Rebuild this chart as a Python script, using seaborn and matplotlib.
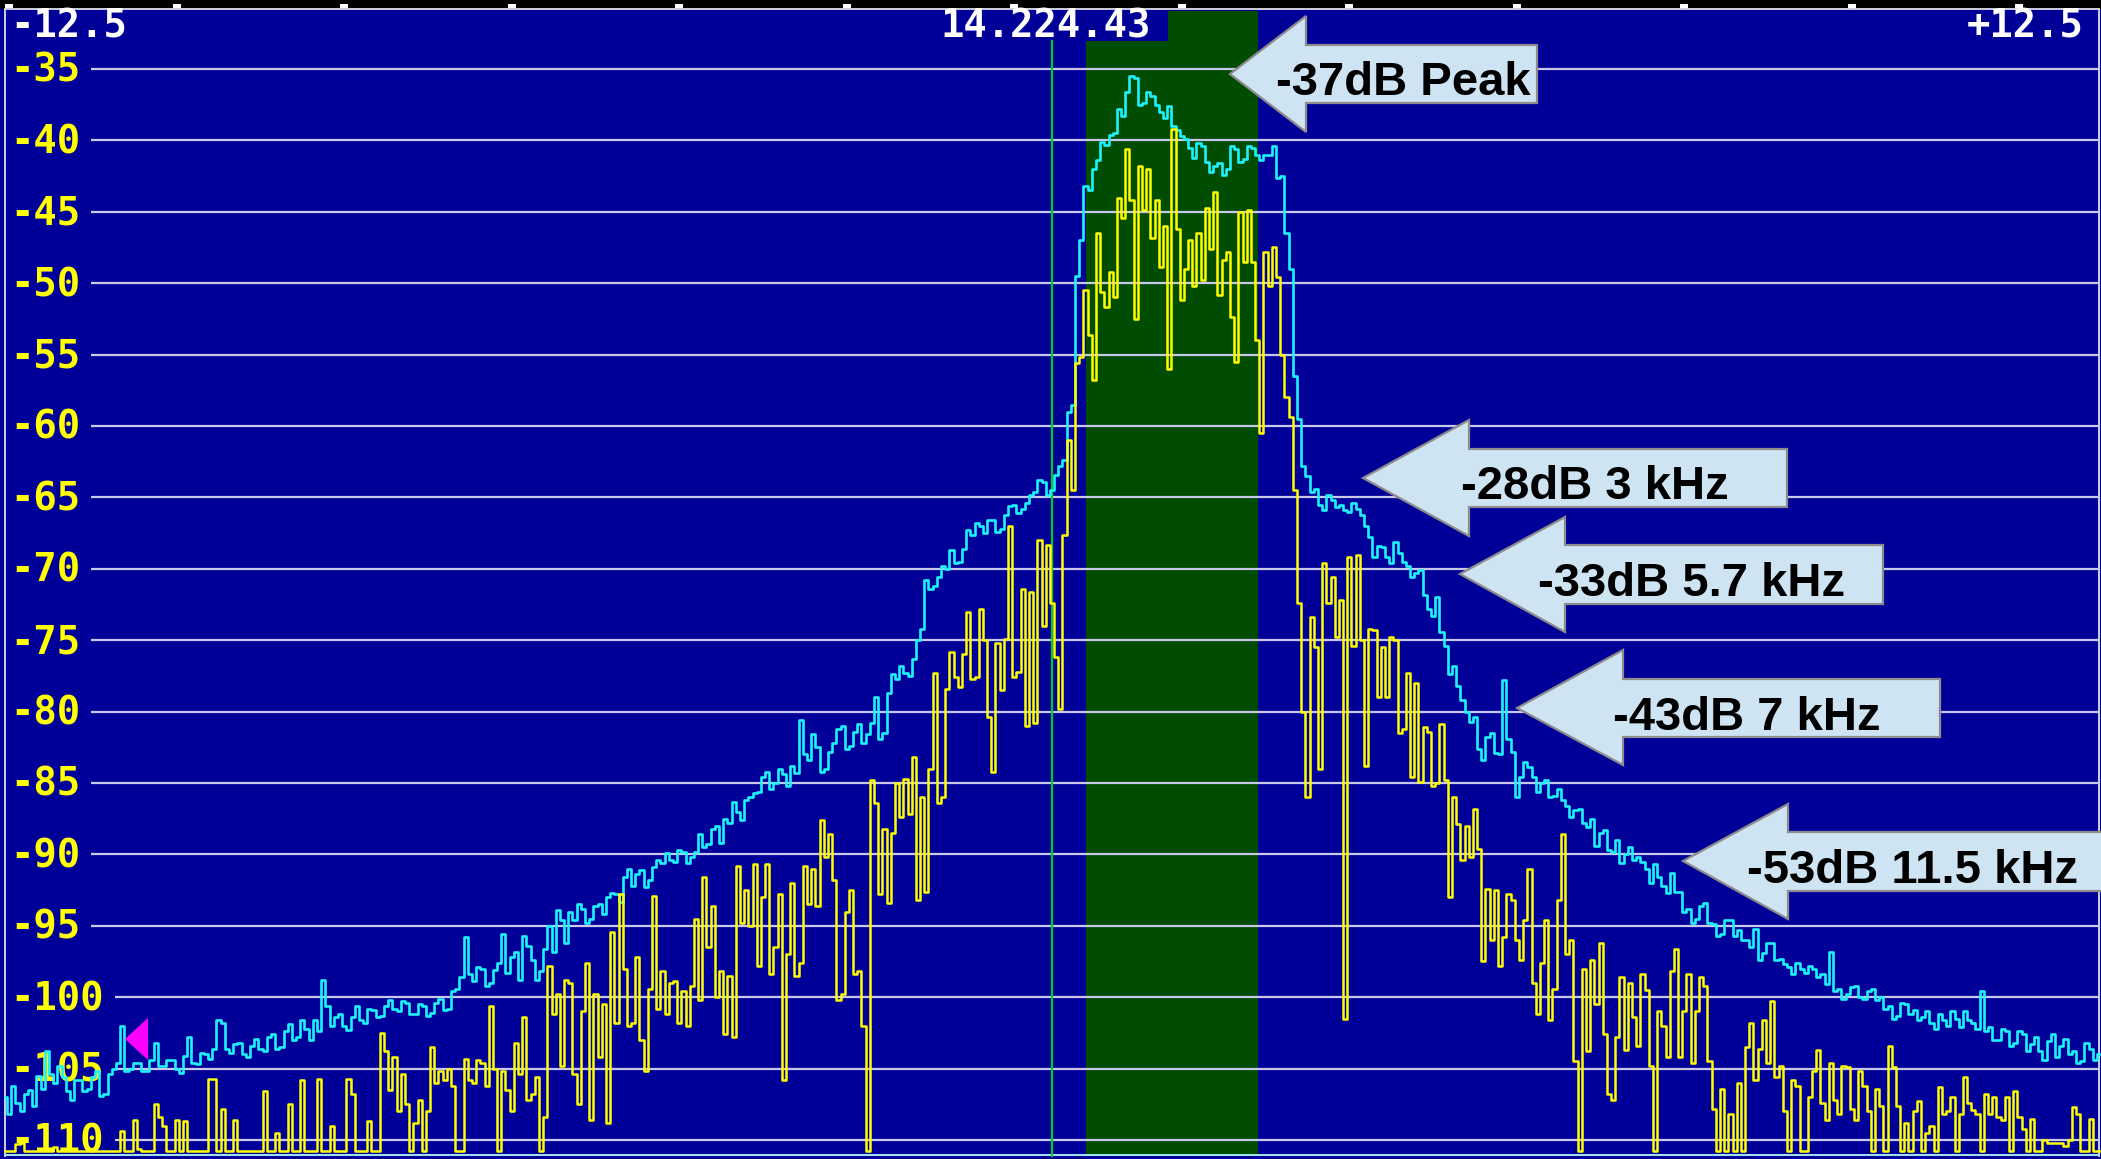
import numpy as np
import pandas as pd
import matplotlib
matplotlib.use("Agg")
import matplotlib.pyplot as plt
from matplotlib.patches import Polygon, Rectangle
import seaborn as sns

# ---------------- data ----------------
# frequency offset (kHz) from 14.224.43 MHz; both traces sampled every 0.05 kHz
f_start, f_step = -12.5, 0.05
# peak-hold trace (cyan)
cyan_db = [
    -107.0, -108.2, -106.2, -107.4, -108.0, -106.8, -106.5, -107.6, -105.5, -106.4,
    -103.8, -105.4, -106.0, -104.8, -105.6, -106.6, -107.2, -105.8, -105.8, -106.6,
    -106.4, -105.6, -105.2, -106.9, -106.8, -105.4, -105.0, -104.6, -102.0, -105.2,
    -105.0, -104.6, -104.6, -105.2, -105.2, -104.4, -103.2, -104.8, -104.8, -104.4,
    -104.4, -105.0, -105.3, -104.1, -102.8, -104.6, -104.7, -103.9, -104.0, -104.3,
    -103.6, -101.6, -101.8, -103.6, -103.9, -103.3, -103.2, -104.0, -104.2, -103.4,
    -102.9, -103.6, -103.8, -102.8, -102.6, -103.6, -103.5, -102.4, -101.9, -103.0,
    -102.8, -101.6, -102.2, -103.0, -101.6, -102.4, -98.8, -100.6, -102.0, -101.4,
    -101.2, -102.0, -102.3, -101.4, -100.6, -101.6, -101.8, -100.8, -100.9, -101.4,
    -101.3, -100.6, -100.2, -100.8, -101.0, -100.3, -100.4, -101.2, -101.2, -100.5,
    -100.6, -101.3, -101.1, -100.4, -100.1, -100.9, -100.8, -99.6, -99.4, -98.6,
    -95.8, -98.4, -98.9, -97.9, -98.0, -99.2, -99.0, -98.1, -97.6, -95.6,
    -98.3, -97.2, -96.8, -98.8, -95.7, -96.4, -97.4, -98.8, -98.2, -96.6,
    -95.0, -96.8, -93.9, -94.6, -96.2, -94.0, -94.6, -93.5, -93.8, -94.8,
    -94.5, -93.6, -93.5, -94.2, -93.0, -92.7, -92.8, -93.3, -91.6, -91.0,
    -92.2, -91.4, -91.1, -92.3, -91.8, -90.9, -90.4, -90.6, -89.9, -90.4,
    -90.5, -89.7, -89.8, -90.6, -90.2, -89.8, -88.6, -89.5, -89.3, -88.2,
    -88.0, -89.2, -87.5, -87.8, -86.3, -87.0, -87.6, -86.2, -86.0, -85.7,
    -85.6, -84.6, -84.2, -85.4, -85.0, -84.0, -84.4, -85.2, -83.8, -84.3,
    -80.6, -83.0, -83.4, -81.6, -82.5, -84.2, -84.0, -82.8, -82.2, -81.2,
    -81.0, -82.6, -82.4, -81.4, -80.9, -82.2, -81.6, -80.8, -79.0, -81.9,
    -81.5, -78.7, -77.4, -77.7, -76.8, -77.3, -77.5, -76.3, -75.0, -74.2,
    -70.8, -71.4, -71.2, -70.6, -69.8, -70.0, -68.7, -69.6, -69.5, -68.6,
    -67.3, -67.6, -66.8, -67.0, -67.5, -66.6, -66.6, -67.4, -67.2, -66.2,
    -65.6, -65.5, -66.1, -65.8, -65.4, -64.8, -64.6, -63.8, -63.9, -64.8,
    -64.5, -63.4, -62.8, -62.4, -59.0, -58.5, -49.5, -47.0, -43.2, -43.5,
    -42.0, -41.4, -40.1, -40.3, -39.6, -39.5, -37.8, -38.3, -36.6, -35.5,
    -35.6, -37.5, -37.4, -36.6, -36.9, -37.5, -38.0, -38.4, -37.6, -39.0,
    -39.3, -39.7, -39.9, -40.5, -41.2, -40.2, -40.4, -41.5, -42.2, -41.8,
    -41.6, -42.4, -42.0, -40.4, -40.6, -41.5, -41.3, -40.4, -40.5, -41.0,
    -41.4, -41.0, -41.0, -40.4, -42.6, -42.5, -46.5, -49.0, -56.5, -59.5,
    -62.8, -63.5, -64.6, -64.4, -65.5, -65.9, -64.8, -65.2, -65.7, -65.5,
    -65.9, -66.0, -65.4, -65.8, -66.2, -67.0, -67.8, -69.2, -68.4, -68.5,
    -69.2, -69.6, -68.1, -68.9, -69.5, -69.8, -70.6, -70.3, -70.1, -71.8,
    -72.8, -73.3, -72.0, -74.4, -75.4, -77.4, -76.8, -78.2, -79.2, -80.0,
    -80.7, -80.4, -82.6, -83.4, -81.8, -81.5, -82.9, -83.0, -77.8, -81.9,
    -82.8, -86.0, -84.6, -83.5, -83.9, -84.6, -85.6, -85.0, -84.8, -86.0,
    -85.9, -85.4, -86.2, -86.6, -87.4, -86.9, -86.8, -87.8, -88.1, -87.5,
    -89.4, -88.5, -88.3, -89.7, -89.8, -89.0, -90.6, -90.0, -89.5, -90.4,
    -90.2, -90.5, -91.0, -92.0, -90.7, -91.6, -92.2, -92.7, -91.3, -92.6,
    -92.6, -94.0, -93.8, -94.8, -94.5, -93.6, -93.4, -94.8, -94.9, -95.7,
    -95.6, -94.6, -94.6, -95.7, -95.3, -96.0, -96.0, -96.5, -95.2, -97.4,
    -96.9, -96.2, -96.2, -97.4, -97.3, -97.7, -97.9, -98.4, -97.6, -98.0,
    -98.3, -97.8, -98.0, -98.6, -98.4, -99.1, -96.8, -99.6, -99.4, -100.1,
    -99.8, -99.3, -99.2, -100.0, -100.1, -99.6, -99.4, -100.2, -100.0, -100.8,
    -100.6, -101.5, -101.3, -100.4, -100.5, -101.2, -100.9, -101.6, -101.4, -101.0,
    -101.8, -102.2, -101.2, -101.6, -102.0, -101.0, -101.5, -102.1, -101.0, -101.6,
    -101.8, -102.2, -99.6, -102.4, -102.1, -103.0, -103.0, -102.2, -102.4, -103.4,
    -103.2, -102.4, -102.6, -103.8, -103.3, -102.8, -103.8, -104.4, -103.1, -102.6,
    -104.2, -103.4, -102.9, -104.0, -103.8, -104.6, -104.5, -103.2, -103.6, -104.4,
    -104.0,
]
# live spectrum (yellow)
yellow_db = [
    -110.8, -110.8, -110.8, -110.3, -110.2, -110.8, -110.8, -110.8, -110.8, -110.8,
    -110.8, -110.8, -110.5, -110.8, -110.8, -110.8, -110.8, -110.8, -110.8, -110.8,
    -110.8, -110.8, -110.8, -110.8, -110.8, -110.8, -110.8, -110.8, -109.4, -110.8,
    -110.8, -108.6, -110.6, -110.8, -110.8, -110.8, -107.5, -108.4, -109.0, -110.8,
    -110.8, -108.6, -110.8, -108.7, -110.8, -110.8, -110.8, -110.8, -110.8, -105.7,
    -105.7, -110.8, -107.8, -110.8, -110.8, -108.6, -110.8, -110.8, -110.8, -110.8,
    -110.8, -110.8, -106.6, -110.8, -110.8, -109.5, -110.8, -110.8, -107.5, -110.8,
    -110.8, -105.8, -110.8, -110.8, -110.8, -105.7, -110.8, -110.8, -109.0, -110.8,
    -110.8, -110.8, -105.7, -106.8, -110.8, -110.8, -110.8, -108.7, -110.8, -110.8,
    -102.5, -103.8, -106.5, -104.2, -108.0, -105.4, -107.5, -110.8, -108.8, -107.2,
    -110.8, -108.0, -103.5, -106.0, -105.2, -105.8, -105.0, -106.2, -110.8, -110.8,
    -104.3, -105.8, -106.0, -104.4, -104.6, -106.2, -100.6, -105.0, -110.8, -105.2,
    -106.5, -108.0, -103.2, -105.4, -101.4, -107.2, -106.8, -105.6, -110.8, -108.4,
    -97.8, -101.2, -99.8, -104.8, -98.8, -99.0, -105.4, -107.5, -101.0, -97.6,
    -108.6, -99.8, -104.2, -100.5, -108.8, -95.4, -101.8, -92.8, -98.0, -102.0,
    -101.8, -97.2, -103.0, -105.2, -99.4, -92.9, -100.8, -98.2, -101.2, -99.0,
    -98.9, -101.8, -99.6, -102.0, -99.2, -94.5, -100.2, -91.6, -96.5, -93.6,
    -100.0, -98.2, -102.6, -98.5, -102.8, -90.8, -94.8, -92.5, -95.0, -90.7,
    -97.8, -93.0, -90.7, -98.4, -96.5, -92.8, -105.8, -97.0, -92.0, -98.5,
    -97.6, -90.8, -93.5, -91.0, -93.6, -87.6, -90.2, -88.6, -91.8, -100.2,
    -99.8, -94.0, -92.5, -98.4, -98.2, -102.0, -110.8, -84.8, -86.4, -92.8,
    -88.2, -93.4, -88.5, -85.0, -87.4, -84.7, -87.2, -83.2, -93.2, -86.0,
    -92.6, -84.0, -77.3, -86.4, -86.0, -78.4, -75.8, -77.6, -78.3, -76.0,
    -73.0, -77.7, -77.6, -72.8, -75.0, -80.4, -84.2, -75.2, -78.5, -74.9,
    -67.0, -77.6, -77.2, -71.4, -81.0, -71.6, -80.8, -68.0, -74.0, -68.3,
    -72.4, -76.2, -79.8, -67.6, -61.0, -64.5, -55.6, -55.2, -50.5, -53.6,
    -56.8, -46.5, -50.6, -51.7, -49.2, -51.0, -44.0, -45.4, -40.6, -44.2,
    -52.5, -41.8, -44.9, -42.0, -46.8, -44.2, -48.9, -46.0, -56.0, -39.2,
    -46.2, -51.2, -49.0, -47.0, -50.2, -46.5, -49.8, -44.7, -47.6, -43.6,
    -50.8, -48.4, -47.8, -52.4, -55.5, -45.0, -48.5, -44.9, -48.5, -54.0,
    -60.5, -47.8, -50.2, -47.5, -49.6, -55.0, -58.0, -59.4, -64.5, -72.4,
    -80.0, -86.0, -73.4, -75.5, -84.0, -69.6, -72.4, -70.6, -74.8, -72.2,
    -101.5, -69.2, -75.4, -69.0, -75.0, -83.8, -74.2, -74.3, -79.0, -75.5,
    -79.0, -74.8, -75.0, -81.5, -81.2, -77.3, -84.6, -78.0, -84.9, -81.1,
    -81.4, -85.2, -85.0, -80.9, -84.8, -93.0, -86.0, -87.9, -90.4, -88.0,
    -90.2, -86.8, -89.6, -97.5, -92.4, -96.0, -92.5, -97.8, -95.8, -92.8,
    -93.2, -96.0, -97.4, -94.6, -91.0, -99.0, -101.2, -97.6, -94.6, -101.6,
    -99.4, -93.2, -88.6, -97.0, -96.0, -104.5, -110.8, -98.0, -103.8, -97.4,
    -100.5, -96.2, -102.6, -106.8, -107.2, -102.8, -98.6, -103.7, -99.0, -101.4,
    -103.4, -98.4, -99.5, -104.8, -110.8, -101.0, -102.0, -104.2, -98.2, -96.6,
    -104.2, -101.0, -98.4, -104.6, -101.0, -98.6, -99.2, -104.5, -107.8, -110.8,
    -106.4, -110.8, -108.2, -110.8, -106.0, -110.8, -103.5, -101.8, -105.8, -103.6,
    -101.6, -104.6, -100.3, -105.6, -104.8, -108.0, -110.8, -105.8, -106.2, -110.8,
    -110.8, -107.0, -105.2, -103.7, -107.4, -108.6, -104.6, -107.2, -108.2, -104.8,
    -104.9, -107.8, -108.6, -105.2, -106.2, -108.0, -110.8, -106.4, -107.6, -110.8,
    -103.4, -104.9, -107.6, -110.8, -108.8, -110.8, -108.0, -107.3, -110.8, -109.5,
    -109.0, -110.8, -106.3, -108.2, -108.0, -107.0, -110.8, -108.2, -105.6, -107.4,
    -107.9, -108.2, -110.8, -106.8, -108.2, -107.0, -108.4, -108.6, -107.0, -110.8,
    -106.6, -108.4, -109.2, -110.8, -108.5, -110.8, -110.8, -110.0, -110.2, -110.2,
    -110.2, -110.2, -110.4, -110.0, -107.7, -108.2, -110.8, -110.8, -108.5, -110.8,
    -110.8,
]
grid_levels = [-35, -40, -45, -50, -55, -60, -65, -70, -75, -80, -85, -90, -95, -100, -105, -110]
grid_labels = [str(v) for v in grid_levels]
span_labels = ["-12.5", "+12.5"]
center_label = "14.224.43"
filter_lo, filter_hi = 0.406, 2.459
top_ticks = [-12.5, -10.5, -8.5, -6.5, -4.5, -2.5, -0.5, 1.5, 3.5, 5.5, 7.5, 9.5, 11.5]
ann_texts = ["-37dB Peak", "-28dB 3 kHz", "-33dB 5.7 kHz", "-43dB 7 kHz", "-53dB 11.5 kHz"]

# ---------------- layout helpers ----------------
W, H = 2101, 1159
X0PX, PXK = 1052.0, 83.76          # pixel of 0 kHz, pixels per kHz
Y35PX, PXDB = 69.0, 14.28          # pixel of -35 dB, pixels per dB
def kx(px):
    return (px - X0PX) / PXK
def dy(py):
    return -35.0 - (py - Y35PX) / PXDB

freqs = f_start + f_step * np.arange(len(yellow_db))
df = pd.DataFrame({"freq": freqs, "peak": cyan_db, "live": yellow_db})

fig = plt.figure(figsize=(W / 100, H / 100), dpi=100)
ax = fig.add_axes([0, 0, 1, 1])
ax.set_facecolor("#000099")
ax.set_axis_off()
ax.add_patch(Rectangle((kx(-10), dy(H + 10)), kx(W + 10) - kx(-10), dy(-10) - dy(H + 10),
                       facecolor="#000099", edgecolor="none", zorder=0))

# top black strip, border, ticks
ax.add_patch(Rectangle((kx(-10), dy(8.5)), kx(W + 10) - kx(-10), dy(-10) - dy(8.5),
                       facecolor="black", edgecolor="none", zorder=1))
for t in top_ticks:
    ax.add_patch(Rectangle((t, dy(8.5)), kx(X0PX + 8) - kx(X0PX), dy(4) - dy(8.5),
                           facecolor="white", edgecolor="none", zorder=2))
border = "#cfcfe0"
ax.plot([kx(5), kx(2099)], [dy(9.5), dy(9.5)], color=border, lw=1.4, zorder=2)
ax.plot([kx(5), kx(5)], [dy(9.5), dy(1156)], color=border, lw=1.4, zorder=2)
ax.plot([kx(2099), kx(2099)], [dy(9.5), dy(1156)], color=border, lw=1.4, zorder=2)
ax.plot([kx(5), kx(2099)], [dy(1155.5), dy(1155.5)], color="#9fe8f0", lw=1.4, zorder=2)

# filter passband
ax.add_patch(Rectangle((filter_lo, dy(1156)), filter_hi - filter_lo, dy(11) - dy(1156),
                       facecolor="#004c00", edgecolor="none", zorder=1))
ax.add_patch(Rectangle((kx(935), dy(41)), kx(1168) - kx(935), dy(10.5) - dy(41),
                       facecolor="#000099", edgecolor="none", zorder=1.5))

# grid lines and level labels
mono = ["DejaVu Sans Mono"]
for lvl, lab in zip(grid_levels, grid_labels):
    start = kx(91) if len(lab) == 3 else kx(115)
    ax.hlines(lvl, start, kx(2099), color="#c8c8ea", lw=1.6, zorder=2)
    ax.text(kx(10), lvl - 0.91, lab, color="#ffff00", fontsize=28, family=mono,
            fontweight="bold", ha="left", va="baseline", zorder=2)

# top labels
ax.text(kx(10), dy(37), span_labels[0], color="white", fontsize=28, family=mono,
        fontweight="bold", ha="left", va="baseline", zorder=3)
ax.text(kx(2084), dy(37), span_labels[1], color="white", fontsize=28, family=mono,
        fontweight="bold", ha="right", va="baseline", zorder=3)
ax.text(kx(940), dy(37), center_label, color="white", fontsize=28, family=mono,
        fontweight="bold", ha="left", va="baseline", zorder=3)

# center marker line
ax.plot([0, 0], [dy(41), dy(1156)], color="#00cc22", lw=1.6, zorder=2.5)

# traces
sns.lineplot(data=df, x="freq", y="peak", ax=ax, color="#1ef2ff", lw=1.9,
             drawstyle="steps-mid", zorder=4)
sns.lineplot(data=df, x="freq", y="live", ax=ax, color="#ffff00", lw=1.8,
             drawstyle="steps-mid", zorder=5)
ax.set_xlabel("")
ax.set_ylabel("")
ax.set_xlim(kx(0), kx(W))
ax.set_ylim(dy(H), dy(0))

# magenta marker
ax.add_patch(Polygon([(kx(125), dy(1039)), (kx(148), dy(1018)), (kx(148), dy(1060))],
                     closed=True, facecolor="#ff00ff", edgecolor="none", zorder=6))

# callout arrows (pixel geometry: tip x,y, head-base x, head top/bottom, body top/bottom, right x, text left x, baseline y)
arrows = [
    (1230, 74, 1306, 16, 132, 45, 103, 1537, 1276, 95),
    (1363, 478, 1469, 420, 536, 449, 507, 1787, 1461, 499),
    (1460, 574, 1565, 517, 632, 545, 604, 1883, 1538, 596),
    (1517, 708, 1623, 650, 765, 679, 737, 1940, 1613, 730),
    (1683, 861, 1788, 804, 919, 832, 891, 2160, 1747, 883),
]
for (tx, ty, bx, ht, hb, rt, rb, rx, lx, by), txt in zip(arrows, ann_texts):
    pts = [(kx(tx), dy(ty)), (kx(bx), dy(ht)), (kx(bx), dy(rt)), (kx(rx), dy(rt)),
           (kx(rx), dy(rb)), (kx(bx), dy(rb)), (kx(bx), dy(hb))]
    ax.add_patch(Polygon(pts, closed=True, facecolor="#cfe4f3", edgecolor="#8c8c8c",
                         lw=1.6, zorder=7, joinstyle="miter"))
    ax.text(kx(lx), dy(by), txt, color="black", fontsize=34, fontweight="bold",
            family=["Liberation Sans", "DejaVu Sans"], ha="left", va="baseline", zorder=8)

fig.savefig("out.png", dpi=100, facecolor="#000099")
